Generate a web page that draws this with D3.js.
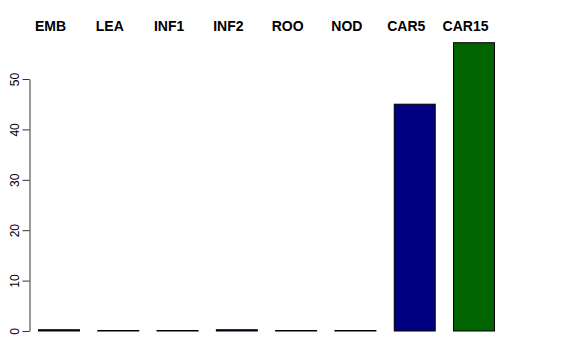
<!DOCTYPE html>
<html><head><meta charset="utf-8">
<script src="https://cdn.jsdelivr.net/npm/d3@7"></script>
<style>body{margin:0;background:#fff}svg{display:block}</style>
</head><body>
<svg id="chart" width="576" height="360"></svg>
<script>
const categories = ["EMB","LEA","INF1","INF2","ROO","NOD","CAR5","CAR15"];
const values = [0.25, 0.1, 0.1, 0.25, 0.1, 0.1, 45.0, 57.2];
const colors = ["#222222","#b08888","#3a5a3a","#1a1a60","#776677","#776677","#000080","#006400"];
const yTicks = [0,10,20,30,40,50];

const svg = d3.select("#chart");
const x = d3.scaleBand().domain(categories).range([38, 494]).paddingInner(0.309).paddingOuter(0);
const y = d3.scaleLinear().domain([0, 50]).range([331, 79]);

svg.append("g").selectAll("rect").data(categories).join("rect")
  .attr("x", d => x(d) + 0.5)
  .attr("y", (d,i) => y(values[i]))
  .attr("width", x.bandwidth())
  .attr("height", (d,i) => y(0) - y(values[i]))
  .attr("fill", (d,i) => colors[i])
  .attr("stroke", "#000")
  .attr("stroke-width", 1);

const ax = svg.append("g").attr("transform", "translate(29.5,0)")
  .call(d3.axisLeft(y).tickValues(yTicks).tickSize(7).tickSizeOuter(0).tickPadding(0));
ax.select(".domain").attr("stroke", "#333");
ax.selectAll(".tick line").attr("stroke", "#333");
ax.selectAll(".tick text")
  .attr("font-family", "Liberation Sans, Arial, sans-serif")
  .attr("font-size", 12)
  .attr("fill", "#000")
  .attr("text-anchor", "middle")
  .attr("x", 0).attr("y", 0).attr("dy", 0)
  .attr("transform", "translate(-11,0) rotate(-90)");

svg.append("g").selectAll("text").data(categories).join("text")
  .attr("x", d => x(d) + x.bandwidth()/2 - 8)
  .attr("y", 31)
  .attr("text-anchor", "middle")
  .attr("font-family", "Liberation Sans, Arial, sans-serif")
  .attr("font-weight", "bold")
  .attr("font-size", 14)
  .attr("fill", "#000")
  .text(d => d);
</script>
</body></html>
